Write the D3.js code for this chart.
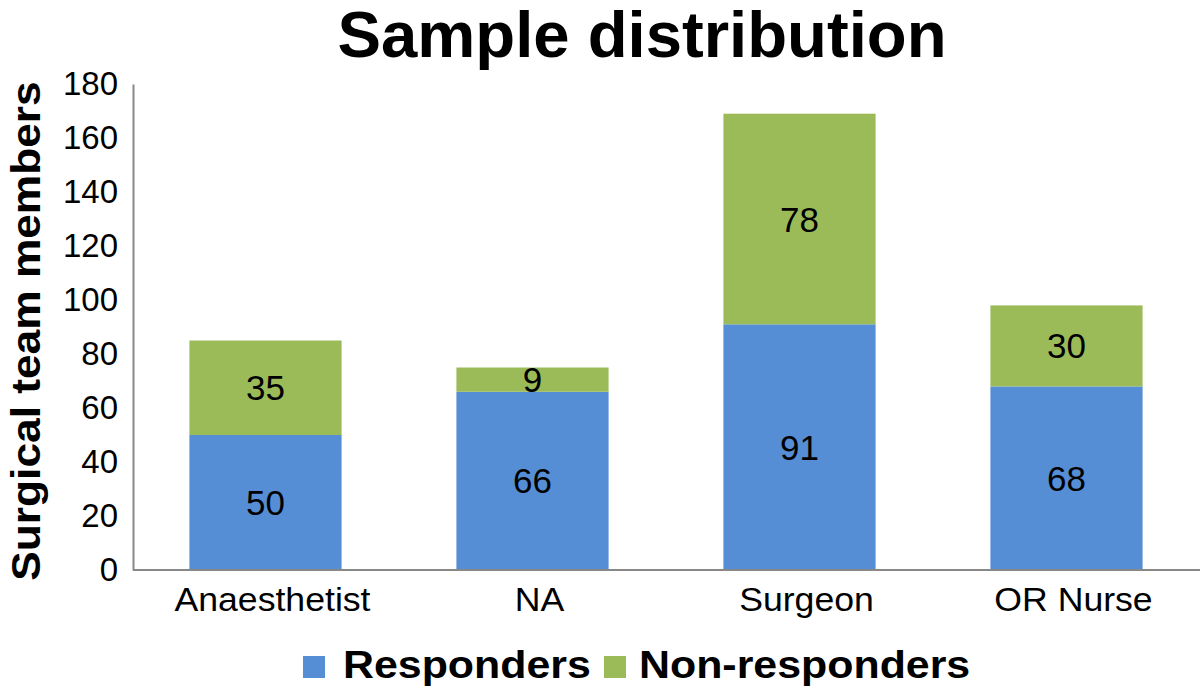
<!DOCTYPE html>
<html><head><meta charset="utf-8">
<script src="https://cdn.jsdelivr.net/npm/d3@7"></script>
<style>body{margin:0;background:#fff}svg{display:block}text{font-family:"Liberation Sans",Arial,sans-serif}</style>
</head><body><svg id="c" width="1200" height="690"></svg>
<script>
const categories = ["Anaesthetist","NA","Surgeon","OR Nurse"];
const responders = [50,66,91,68];
const nonResponders = [35,9,78,30];
const seriesNames = ["Responders","Non-responders"];
const yTicks = [0,20,40,60,80,100,120,140,160,180];

const svg = d3.select("#c");
const colors = ["#558ED5","#9BBB59"];
const x = d3.scaleBand().domain(categories).range([132,1200]).paddingInner(0.43).paddingOuter(0.215);
const y = d3.scaleLinear().domain([0,180]).range([570,84]);

const rows = categories.map((c,i)=>({cat:c, Responders:responders[i], "Non-responders":nonResponders[i]}));
const stack = d3.stack().keys(seriesNames)(rows);

svg.append("text").attr("transform","translate(642,57) scale(1.02,1)").attr("text-anchor","middle")
  .attr("font-size",64).attr("font-weight","bold").text("Sample distribution");

const gs = svg.selectAll("g.s").data(stack).join("g").attr("fill",(d,i)=>colors[i]);
gs.selectAll("rect").data(d=>d).join("rect")
  .attr("x",d=>x(d.data.cat)).attr("width",x.bandwidth())
  .attr("y",d=>y(d[1])).attr("height",d=>y(d[0])-y(d[1]));
svg.selectAll("g.lbl").data(stack).join("g").selectAll("text").data(d=>d.map(v=>({v,key:d.key}))).join("text")
  .attr("x",d=>x(d.v.data.cat)+x.bandwidth()/2)
  .attr("y",d=>(y(d.v[0])+y(d.v[1]))/2+12.5)
  .attr("text-anchor","middle").attr("font-size",35).attr("fill","#000")
  .text(d=>d.v.data[d.key]);

// axes
const ya = svg.append("g").attr("transform","translate(133,0)")
  .call(d3.axisLeft(y).tickValues(yTicks).tickSize(0).tickPadding(15));
ya.select(".domain").attr("stroke","#888").attr("stroke-width",2);
ya.selectAll("text").attr("font-size",33).attr("fill","#000").attr("font-family","Liberation Sans, Arial, sans-serif");

const xa = svg.append("g").attr("transform","translate(0,570)")
  .call(d3.axisBottom(x).tickSize(0).tickPadding(12));
xa.select(".domain").attr("stroke","#888").attr("stroke-width",2).attr("d","M133,0H1200");
xa.selectAll("text").attr("font-size",33).attr("fill","#000").attr("font-family","Liberation Sans, Arial, sans-serif")
  .attr("y",null).attr("dy",null).attr("transform","translate(7,41) scale(1.08,1)");

svg.append("text").attr("transform","translate(40,331) rotate(-90) scale(1.08,1)").attr("text-anchor","middle")
  .attr("font-size",41).attr("font-weight","bold").text("Surgical team members");

// legend
const leg = [{x:303,tx:343},{x:604,tx:639}];
seriesNames.forEach((n,i)=>{
  svg.append("rect").attr("x",leg[i].x).attr("y",656).attr("width",22).attr("height",22).attr("fill",colors[i]);
  svg.append("text").attr("transform",`translate(${leg[i].tx},678) scale(1.1,1)`).attr("font-size",39).attr("font-weight","bold").text(n);
});
</script></body></html>
